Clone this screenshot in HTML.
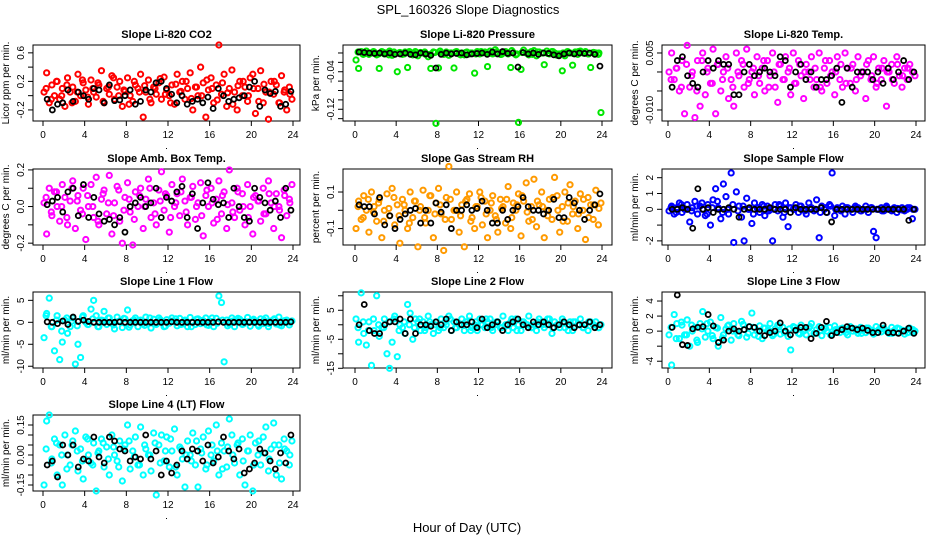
<!DOCTYPE html>
<html><head><meta charset="utf-8"><style>
html,body{margin:0;padding:0;background:#fff;}
svg{display:block;font-family:"Liberation Sans",sans-serif;}
</style></head><body>
<svg id="chart" width="936" height="540" viewBox="0 0 936 540" xmlns="http://www.w3.org/2000/svg">
<rect x="0" y="0" width="936" height="540" fill="#fff"/>
<text x="468" y="14" text-anchor="middle" font-size="13">SPL_160326  Slope Diagnostics</text>
<text x="467" y="532" text-anchor="middle" font-size="13">Hour of Day (UTC)</text>
</svg>
<script>
// ---- data arrays ----
const xTicks = [0,4,8,12,16,20,24];
const co2Color = [0.05,0.32,-0.1,0.15,0.0,0.2,-0.05,0.1,-0.15,0.25,0.05,0.12,-0.08,0.3,0.0,0.18,0.08,-0.12,0.22,0.05,-0.02,0.15,0.35,-0.1,0.1,0.02,0.28,-0.05,0.12,0.2,-0.15,0.06,0.25,0.0,-0.08,0.15,0.1,0.3,-0.3,0.05,0.22,-0.1,0.12,0.02,0.18,-0.05,0.26,0.08,0.0,0.15,-0.12,0.3,0.05,0.2,-0.05,0.1,0.32,-0.2,0.12,0.0,0.4,0.18,-0.3,0.08,0.25,-0.1,0.15,0.71,0.02,0.3,-0.15,0.1,0.36,0.05,-0.2,0.2,0.0,0.12,-0.08,0.25,0.3,-0.25,0.1,0.35,-0.1,0.05,-0.33,0.2,0.02,0.15,-0.1,0.28,0.05,-0.2,0.12,-0.05];
const co2Color2 = [0.1,-0.05,0.2,0.0,0.15,-0.1,0.05,0.22,-0.02,0.1,0.18,-0.08,0.12,0.25,0.0,0.08,-0.12,0.2,0.05,0.14,-0.05,0.1,0.24,0.02,-0.1,0.16,0.06,0.2,-0.04,0.12,0.0,0.22,0.1,-0.06,0.18,0.04,-0.12,0.14,0.2,0.0,0.1,-0.08,0.16,0.05,0.2,-0.1,0.08,0.02];
const co2Black = [-0.05,-0.2,-0.12,-0.1,0.08,-0.08,0.05,0.0,-0.05,0.1,0.08,-0.1,0.15,-0.07,-0.06,0.0,0.08,-0.12,-0.08,0.08,0.05,0.18,0.2,0.1,0.02,-0.1,0.0,-0.12,-0.08,-0.05,-0.1,-0.02,-0.18,0.1,0.0,-0.08,-0.05,-0.03,0.0,0.12,0.2,-0.15,0.08,0.03,0.06,-0.15,-0.12,0.06];
const pressColor = [-0.015,-0.033,0.003,-0.002,0.004,-0.003,0.0,0.002,-0.004,-0.033,0.003,-0.002,0.0,0.004,-0.005,-0.002,-0.04,0.001,-0.003,0.002,-0.031,0.0,-0.004,0.003,-0.006,0.001,0.0,-0.003,-0.008,-0.033,0.002,-0.15,-0.032,0.0,-0.003,0.002,-0.005,0.0,-0.032,0.003,-0.002,0.0,-0.004,0.002,-0.002,0.0,-0.043,0.003,-0.002,0.0,0.002,-0.029,0.004,-0.002,0.007,0.001,-0.003,0.0,0.003,-0.002,-0.031,0.001,-0.004,-0.148,-0.035,0.006,0.0,-0.004,0.003,0.005,-0.006,0.002,0.0,-0.025,0.004,-0.002,0.003,0.0,-0.005,-0.002,-0.038,-0.006,0.003,0.0,-0.026,0.002,-0.003,0.004,0.0,0.003,-0.002,-0.031,0.001,0.0,-0.003,-0.127];
const pressColor2 = [0.002,-0.003,0.0,0.003,-0.002,0.001,-0.004,0.002,0.0,-0.002,0.003,-0.001,0.0,0.002,-0.003,0.001,0.004,-0.002,0.0,0.002,-0.004,0.001,0.0,-0.002,0.003,0.0,-0.001,0.002,-0.003,0.0,0.005,-0.002,0.001,0.0,-0.003,0.002,0.0,-0.001,0.003,-0.002,0.0,0.002,-0.001,0.003,0.0,-0.002,0.001,0.0];
const pressBlack = [0.002,0.001,0.0,-0.001,0.0,-0.002,0.0,-0.003,-0.002,0.0,-0.003,-0.004,0.0,-0.002,-0.005,-0.032,-0.003,0.0,-0.002,-0.001,0.0,-0.004,-0.002,-0.001,0.0,-0.003,0.002,-0.002,0.003,-0.001,0.0,-0.03,0.001,-0.002,0.0,-0.003,0.0,-0.001,-0.004,-0.006,-0.002,0.0,-0.002,0.0,-0.001,0.0,-0.003,-0.028];
const tempColor = [0.0,0.005,-0.002,0.001,-0.005,0.003,-0.011,0.007,-0.004,0.0,-0.012,0.003,-0.009,0.005,-0.006,0.001,-0.003,0.006,-0.011,0.002,-0.005,0.0,0.004,-0.007,-0.002,-0.009,0.005,-0.001,0.003,-0.004,0.006,-0.002,0.0,-0.006,0.004,-0.003,0.001,-0.005,0.003,-0.001,0.005,-0.004,-0.008,0.002,-0.002,0.004,0.0,-0.006,0.005,-0.003,0.003,-0.001,-0.007,0.002,0.0,0.004,-0.004,-0.002,0.005,-0.005,0.001,-0.003,0.003,0.0,-0.006,0.004,-0.002,-0.004,0.005,0.001,-0.003,0.002,-0.005,0.004,-0.001,0.0,-0.007,0.003,-0.002,0.004,-0.004,0.001,-0.002,0.003,-0.009,0.0,0.002,-0.003,0.004,-0.001,-0.004,0.001,-0.002,0.002,0.0,-0.001];
const tempColor2 = [-0.002,0.001,-0.004,0.002,-0.001,-0.005,0.003,0.0,-0.003,0.002,-0.002,0.001,-0.004,0.0,0.002,-0.003,0.001,-0.001,0.003,-0.004,0.0,0.002,-0.002,0.001,-0.003,0.002,0.0,-0.002,0.001,-0.004,0.003,-0.001,0.0,0.002,-0.003,0.001,-0.002,0.0,0.002,-0.001,-0.003,0.001,0.0,-0.002,0.002,-0.001,0.001,0.0];
const tempBlack = [-0.004,0.003,0.004,-0.001,-0.003,-0.004,0.0,0.003,0.001,0.003,0.002,0.002,-0.006,-0.006,0.0,0.002,-0.001,0.0,0.001,0.0,-0.001,0.004,0.003,-0.004,0.0,0.002,-0.002,0.0,-0.004,-0.002,-0.002,-0.001,0.001,-0.008,0.001,-0.004,0.0,0.0,0.0,-0.002,0.0,-0.003,0.001,-0.002,0.0,0.003,-0.002,0.0];
const ambColor = [0.02,-0.15,0.1,-0.05,0.08,0.0,-0.08,0.12,0.05,-0.1,0.03,0.14,-0.12,0.06,-0.02,0.1,-0.18,0.0,0.12,-0.06,0.16,-0.1,0.04,0.09,-0.04,0.17,-0.15,0.02,0.11,-0.08,-0.2,0.05,0.13,-0.03,-0.21,0.08,0.0,0.1,-0.12,0.04,0.15,-0.06,0.02,-0.1,0.09,0.19,-0.02,0.06,-0.14,0.12,0.0,0.07,-0.05,0.15,0.03,-0.1,0.05,0.11,-0.07,0.02,0.13,-0.16,0.06,0.0,0.1,-0.09,0.04,0.14,-0.04,0.08,-0.12,0.2,0.02,-0.06,0.1,-0.02,0.07,-0.1,0.12,0.0,-0.15,0.06,0.03,-0.08,0.1,-0.04,0.14,0.02,-0.12,0.07,0.0,-0.17,0.09,-0.05,0.04,0.12];
const ambColor2 = [0.05,-0.03,0.08,0.0,-0.06,0.1,0.03,-0.04,0.06,0.0,-0.08,0.07,0.02,-0.05,0.09,-0.02,0.04,-0.07,0.06,0.0,0.1,-0.04,0.03,0.07,-0.06,0.02,0.08,-0.03,0.05,0.0,-0.05,0.09,0.02,-0.07,0.06,0.01,-0.03,0.08,0.0,-0.06,0.05,0.03,-0.04,0.07,0.0,-0.02,0.06,0.02];
const ambBlack = [0.01,0.03,0.05,-0.03,0.08,0.1,-0.05,0.12,-0.06,0.05,-0.04,-0.08,-0.07,-0.1,-0.06,-0.14,0.0,0.02,0.05,0.0,0.02,0.1,-0.06,0.05,0.03,0.08,0.11,-0.06,0.07,-0.12,0.02,0.13,0.04,0.01,0.02,-0.06,0.1,0.0,-0.06,-0.08,0.1,0.05,0.02,-0.02,0.03,-0.06,0.1,-0.02];
const rhColor = [-0.1,0.05,-0.05,0.08,0.0,-0.12,0.1,0.02,-0.06,0.06,-0.15,0.0,0.09,-0.03,0.12,-0.08,0.03,-0.18,0.06,0.0,-0.1,0.1,-0.04,0.05,-0.2,0.02,0.11,-0.07,0.0,0.08,-0.15,0.04,0.12,-0.02,-0.22,0.07,0.24,-0.05,0.0,0.1,-0.12,0.03,-0.2,0.06,0.09,-0.04,-0.1,0.02,0.1,-0.08,0.05,-0.15,0.0,0.08,-0.03,-0.12,0.06,0.02,-0.07,0.13,-0.1,0.04,0.0,0.09,-0.14,0.05,0.15,-0.06,0.02,0.17,-0.09,0.03,0.1,-0.15,0.0,0.06,-0.05,0.18,0.08,-0.12,0.02,0.1,-0.06,0.14,-0.02,0.05,-0.1,0.09,0.0,-0.16,0.07,0.03,-0.05,0.11,-0.08,0.04];
const rhColor2 = [0.02,-0.04,0.06,-0.01,0.04,-0.06,0.01,0.07,-0.03,0.03,-0.07,0.05,0.0,-0.04,0.08,-0.02,0.03,-0.05,0.06,0.0,-0.03,0.05,-0.06,0.02,0.07,-0.02,0.04,-0.05,0.01,0.06,-0.04,0.03,0.08,-0.01,-0.05,0.05,0.02,-0.03,0.07,0.0,-0.06,0.04,0.02,-0.02,0.06,-0.04,0.03,0.01];
const rhBlack = [0.03,0.02,0.02,-0.02,0.07,-0.08,-0.03,-0.1,-0.05,-0.02,0.0,0.01,-0.07,0.0,-0.07,0.04,-0.01,0.03,-0.1,0.0,0.0,0.03,0.0,0.01,0.05,0.0,-0.07,-0.07,0.0,-0.05,0.0,0.02,0.07,0.02,0.0,0.0,-0.02,0.0,0.06,-0.04,-0.04,0.07,0.04,0.0,-0.05,0.0,0.03,0.09];
const flowColor = [-0.1,0.2,-0.3,0.1,0.4,-0.2,0.0,0.3,-0.8,0.1,0.5,-0.3,0.2,0.0,-0.4,0.3,-1.0,0.6,1.3,0.1,-0.6,1.6,0.8,-0.3,2.3,-2.1,1.1,0.2,-0.5,-2.0,0.7,0.0,-0.9,0.4,0.1,-0.2,0.3,-0.4,0.2,0.0,-2.0,0.3,-0.1,0.2,-0.5,0.4,-1.1,0.1,0.0,0.3,-0.2,0.2,0.0,-0.3,0.4,0.1,-0.1,0.6,-1.8,0.2,0.0,-0.2,0.3,2.3,-0.4,0.1,0.0,0.2,-0.3,0.1,0.0,-0.2,0.2,0.1,-0.1,0.0,0.2,-0.2,0.1,-1.4,-1.8,0.0,0.1,-0.1,0.2,0.0,-0.1,0.1,-0.2,0.0,0.1,-0.1,0.0,0.1,-0.6,0.0];
const flowColor2 = [0.1,-0.2,0.3,0.0,-0.1,0.2,0.4,-0.3,0.1,0.5,-0.2,0.0,0.3,-0.1,0.2,0.0,-0.3,0.1,0.2,-0.1,0.0,0.3,-0.2,0.1,0.0,0.2,-0.1,0.1,0.0,-0.2,0.1,0.2,0.0,-0.1,0.1,0.0,0.1,-0.1,0.0,0.1,0.0,-0.1,0.1,0.0,0.05,-0.05,0.1,0.0];
const flowBlack = [0.0,0.0,0.1,0.0,-1.2,1.3,0.0,0.1,-0.2,0.0,0.0,0.1,0.0,-0.5,0.0,0.1,0.0,0.0,0.0,0.1,0.0,0.0,0.0,-0.2,0.1,0.0,0.0,0.0,0.0,0.1,-0.2,-0.8,0.0,0.0,0.0,0.0,0.0,0.0,0.0,0.0,0.0,0.0,0.0,0.0,0.0,0.0,-0.7,0.0];
const line1Color = [-3.5,2,5.5,-1,-6.5,1.5,-8.5,-4.5,0.5,-2.5,-1,1,-9.5,-5,-8,1.5,0,-0.5,3,5,1.5,-1,0.5,2.5,-0.5,1,0,-1.5,1.2,0.3,-1.2,0.8,2.8,-0.6,0.4,1,-1,0.5,-0.3,1.2,0,-1.3,0.7,-0.5,1,0.3,-1,0.6,-0.2,1,0.2,-0.8,0.9,-0.4,0.5,-1,1.1,0,-0.5,0.8,-0.3,0.4,1,-0.7,0.2,-1,0.9,6,4.5,-9,0.5,-0.4,1,-1,0.3,0.7,-0.5,0.2,1.1,-0.9,0.4,0,-0.6,0.8,-0.3,1,-1,0.3,0.6,-0.4,1.2,-0.8,0.2,0.5,-0.6,0.3];
const line1Color2 = [1.5,-1,0.5,-2,1,0.3,-0.8,1.2,-0.5,0.8,-1,0.4,1,-0.6,0.2,0.9,-1.1,0.5,0.1,-0.7,1,-0.3,0.6,-0.9,0.3,0.8,-0.5,0.2,-1,0.7,0.4,-0.6,1,-0.2,0.5,-0.8,0.3,0.9,-0.4,0.1,0.7,-0.9,0.5,-0.3,0.8,-0.6,0.4,0];
const line1Black = [0.1,0,-0.3,0.3,-0.5,1.2,0.2,0.5,0.2,0,0,0,0,0,0.1,0,0,0,0,0,0,0,0,0,0.1,0,0,0,0,0,0,0,0,0.1,0,0,0,0,0,0,0,0,0,0,0,0,0,0.1];
const line2Color = [2,-6,11,-3,-7,1,-14,-2,10,-4,-1,2,-10,-15,-6,3,-11,0,-1,-3,7,4,-5,2,1,-2,1,-1,3,0,-3,1,-2,2,-1,0,3,-2,1,-1,0,2,-2,1,3,-1,0,-2,2,0,-1,1,2,-2,0,1,-1,3,0,-2,1,-1,2,0,-2,1,0,3,-1,0,-2,2,1,-1,0,2,-3,1,0,-1,2,-1,0,1,-2,1,0,2,-1,0,-2,1,0,1,-1,0];
const line2Color2 = [-1,1,-2,2,0,-1,1,2,-2,1,0,-1,2,-2,1,0,-1,1,2,-1,0,1,-2,1,0,2,-1,1,-1,0,2,-2,1,0,-1,1,0,2,-1,0,1,-2,1,0,-1,1,0,-1];
const line2Black = [0,7,-2,-3,-3,0,1,1,2,-3,2,-3,0,0,-0.5,1,0,2,-2,1,0,0,1,-1,2,-1,0,1,-2,0,1,2,0,-1,1,0,1,0,-1,0,1,0,-1,0,0,1,-1,0];
const line3Color = [-0.5,-4.5,2.2,1,-1,0.8,-0.5,1.5,-2,0,0.5,-1.5,1,2.6,-0.8,0,1.2,-1,0.5,-2,1.8,-0.5,0.3,0.8,-1.2,1,0,-0.6,1.3,0.2,-0.8,0.6,2.4,-0.5,0,0.7,-1,0.4,0,1,-0.6,0.3,0.8,-0.4,0.5,0,-0.7,-2.5,0.6,0.2,-0.3,0.8,0,-0.5,0.4,1,-0.3,0.2,0.6,-0.6,0.3,0,0.5,-0.4,0.7,0,-0.2,0.4,0.2,-0.5,0.6,0,0.3,-0.3,0.5,0.1,-0.2,0.4,0,-0.4,0.6,0.2,-0.1,0.4,0,-0.3,0.5,0.1,-0.2,0.3,0,-0.4,0.2,0.4,-0.2,0];
const line3Color2 = [0.5,-1,1.2,-0.5,0.8,-1.2,0.3,1,-0.6,0.4,-0.9,0.7,0,-0.5,0.9,-0.3,0.5,-0.7,0.4,0.1,-0.4,0.6,-0.2,0.3,0.5,-0.4,0.2,0.6,-0.3,0.1,0.4,-0.5,0.2,0.3,-0.2,0.5,0,-0.3,0.4,0.1,-0.2,0.3,0,-0.3,0.4,0.1,-0.2,0.2];
const line3Black = [0.5,4.8,-1.8,-1.9,0.3,0.5,0.6,2.2,0.7,-1.5,-1.2,0,0.3,0,0.2,0.6,0.5,0,-0.6,-0.2,0,1.1,0,-0.5,0.1,0.5,0.5,-1,-0.3,0.5,1.3,-0.6,-0.2,0.2,0.6,0.4,0.2,0.4,0.1,-0.2,-0.2,0.8,-0.2,-0.2,-0.3,0,0.4,-0.3];
const line4Color = [-0.15,0.17,0.2,-0.02,0.08,-0.1,0.05,-0.15,0.1,0.0,-0.05,0.07,0.12,-0.08,0.03,-0.12,0.09,0.0,-0.04,0.06,-0.18,0.02,0.08,-0.06,0.04,-0.1,0.1,0.0,-0.03,0.07,-0.13,0.05,0.15,-0.07,0.02,0.09,-0.05,0.14,-0.1,0.03,0.0,-0.08,0.11,-0.2,0.05,0.1,-0.03,0.09,-0.06,0.02,0.13,-0.1,0.04,-0.02,-0.16,0.07,0.0,0.11,-0.05,-0.16,0.03,0.09,-0.07,0.12,0.0,-0.03,0.15,-0.1,0.06,0.02,-0.06,0.18,0.1,-0.04,0.05,-0.1,0.08,-0.15,0.02,0.1,-0.18,0.06,0.0,-0.05,0.09,0.14,-0.08,0.03,0.16,-0.1,0.05,-0.12,0.08,0.02,-0.05,0.07];
const line4Color2 = [0.03,-0.04,0.06,0.0,-0.07,0.05,0.02,-0.03,0.08,-0.05,0.01,0.06,-0.02,0.04,-0.06,0.03,0.07,-0.01,-0.05,0.05,0.0,0.06,-0.04,0.02,0.08,-0.06,0.03,0.0,-0.03,0.07,0.01,-0.05,0.05,0.02,-0.07,0.04,0.0,0.06,-0.03,0.02,-0.05,0.07,0.01,-0.02,0.05,-0.04,0.03,0.0];
const line4Black = [-0.05,-0.03,-0.11,0.05,0.0,0.05,-0.06,-0.02,-0.03,0.09,-0.01,-0.04,0.09,0.07,0.03,0.02,-0.03,-0.01,-0.02,0.10,-0.02,0.02,-0.10,-0.03,-0.09,-0.05,0.02,-0.02,0.03,0.02,-0.03,0.05,-0.04,-0.01,0.09,0.02,-0.02,0.03,-0.09,-0.07,-0.04,0.03,0.01,-0.03,-0.07,0.01,-0.04,0.1];
const co2Ticks=[-0.2,0,0.2,0.4,0.6], co2Labels=["-0.2","","0.2","","0.6"];
const pressTicks=[0,-0.02,-0.04,-0.06,-0.08,-0.10,-0.12,-0.14], pressLabels=["","","-0.04","","","","-0.12",""];
const tempTicks=[0.005,0,-0.005,-0.010], tempLabels=["0.005","","","-0.010"];
const ambTicks=[-0.2,-0.1,0,0.1,0.2], ambLabels=["-0.2","","0.0","","0.2"];
const rhTicks=[-0.1,0,0.1], rhLabels=["-0.1","","0.1"];
const flowTicks=[-2,-1,0,1,2], flowLabels=["-2","","0","1","2"];
const line1Ticks=[-10,-5,0,5], line1Labels=["-10","-5","0","5"];
const line2Ticks=[-15,-10,-5,0,5,10], line2Labels=["-15","","-5","","5",""];
const line3Ticks=[-4,-2,0,2,4], line3Labels=["-4","","0","2","4"];
const line4Ticks=[-0.15,-0.10,-0.05,0,0.05,0.10,0.15], line4Labels=["-0.15","","","0.00","","","0.15"];

// ---- layout config ----
const cols=[{l:33,r:300,x0:43,x24:293},{l:343,r:612,x0:355,x24:602},{l:662,r:925,x0:668,x24:916}];
const rowTops=[45,169,292,415];
const H=76;
const panels=[
 {name:"co2",title:"Slope Li-820 CO2",yl:"Licor ppm per min.",c:0,r:0,top:0.71,bot:-0.355,col:"#ff0000",cv:co2Color,cv2:co2Color2,bv:co2Black,t:co2Ticks,tl:co2Labels},
 {name:"pressure",title:"Slope Li-820 Pressure",yl:"kPa per min.",c:1,r:0,top:0.017,bot:-0.145,col:"#00e600",cv:pressColor,cv2:pressColor2,bv:pressBlack,t:pressTicks,tl:pressLabels},
 {name:"temp",title:"Slope Li-820 Temp.",yl:"degrees C per min.",c:2,r:0,top:0.0071,bot:-0.0129,col:"#ff00ff",cv:tempColor,cv2:tempColor2,bv:tempBlack,t:tempTicks,tl:tempLabels},
 {name:"amb-box-temp",title:"Slope Amb. Box Temp.",yl:"degrees C per min.",c:0,r:1,top:0.205,bot:-0.21,col:"#ff00ff",cv:ambColor,cv2:ambColor2,bv:ambBlack,t:ambTicks,tl:ambLabels},
 {name:"gas-stream-rh",title:"Slope Gas Stream RH",yl:"percent per min.",c:1,r:1,top:0.226,bot:-0.19,col:"#ff9a00",cv:rhColor,cv2:rhColor2,bv:rhBlack,t:rhTicks,tl:rhLabels},
 {name:"sample-flow",title:"Slope Sample Flow",yl:"ml/min per min.",c:2,r:1,top:2.55,bot:-2.26,col:"#0000ff",cv:flowColor,cv2:flowColor2,bv:flowBlack,t:flowTicks,tl:flowLabels},
 {name:"line1-flow",title:"Slope Line 1 Flow",yl:"ml/min per min.",c:0,r:2,top:6.9,bot:-10.4,col:"#00ffff",cv:line1Color,cv2:line1Color2,bv:line1Black,t:line1Ticks,tl:line1Labels},
 {name:"line2-flow",title:"Slope Line 2 Flow",yl:"ml/min per min.",c:1,r:2,top:11.3,bot:-14.9,col:"#00ffff",cv:line2Color,cv2:line2Color2,bv:line2Black,t:line2Ticks,tl:line2Labels},
 {name:"line3-flow",title:"Slope Line 3 Flow",yl:"ml/min per min.",c:2,r:2,top:5.2,bot:-4.9,col:"#00ffff",cv:line3Color,cv2:line3Color2,bv:line3Black,t:line3Ticks,tl:line3Labels},
 {name:"line4-flow",title:"Slope Line 4 (LT) Flow",yl:"ml/min per min.",c:0,r:3,top:0.2,bot:-0.18,col:"#00ffff",cv:line4Color,cv2:line4Color2,bv:line4Black,t:line4Ticks,tl:line4Labels}
];
const NS="http://www.w3.org/2000/svg";
const svg=document.getElementById('chart');
function mk(tag,attrs,parent){const e=document.createElementNS(NS,tag);for(const k in attrs)e.setAttribute(k,attrs[k]);(parent||svg).appendChild(e);return e;}
panels.forEach(p=>{
 const C=cols[p.c], T=rowTops[p.r], B=T+H;
 const g=mk('g',{});
 
 
 const xs=h=>C.x0+(C.x24-C.x0)*h/24;
 const ys=v=>T+(p.top-v)/(p.top-p.bot)*H;
 const box=mk('rect',{x:C.l,y:T,width:C.r-C.l,height:H,fill:'none',stroke:'#000','stroke-width':1},g);
 
 
 const tt=mk('text',{x:(C.l+C.r)/2,y:T-7,'text-anchor':'middle','font-size':11,'font-weight':'bold'},g);
 tt.textContent=p.title;
 
 
 xTicks.forEach(h=>{
  const x=xs(h);
  mk('line',{x1:x,y1:B,x2:x,y2:B+5,stroke:'#000'},g);
  const t=mk('text',{x:x,y:B+17,'text-anchor':'middle','font-size':10},g);
  t.textContent=h;
  
  
 });
 mk('rect',{x:(C.l+C.r)/2-0.5,y:B+27,width:1,height:1,fill:'#000'},g);
 p.t.forEach((v,i)=>{
  const y=ys(v);
  if(y<T-1||y>B+1)return;
  mk('line',{x1:C.l-5,y1:y,x2:C.l,y2:y,stroke:'#000'},g);
  if(p.tl[i]){
   const t=mk('text',{x:C.l-9,y:y,'text-anchor':'middle','font-size':10,transform:`rotate(-90 ${C.l-9} ${y})`},g);
   t.textContent=p.tl[i];
   
   
  }
 });
 const yt=mk('text',{x:C.l-24,y:(T+B)/2,'text-anchor':'middle','font-size':10,transform:`rotate(-90 ${C.l-24} ${(T+B)/2})`},g);
 yt.textContent=p.yl;
 
 
 const n=p.cv.length;
 p.cv.forEach((v,i)=>{
  const h=0.1+i*23.8/(n-1);
  const c=mk('circle',{cx:xs(h),cy:ys(v),r:2.6,fill:'none',stroke:p.col,'stroke-width':2},g);
  
  
 });
 const n2=p.cv2.length;
 p.cv2.forEach((v,i)=>{
  const h=0.3+i*23.4/(n2-1);
  const c=mk('circle',{cx:xs(h),cy:ys(v),r:2.6,fill:'none',stroke:p.col,'stroke-width':2},g);
  
  
 });
 const m=p.bv.length;
 p.bv.forEach((v,i)=>{
  const h=0.4+i*23.4/(m-1);
  const c=mk('circle',{cx:xs(h),cy:ys(v),r:2.5,fill:'none',stroke:'#000','stroke-width':1.8},g);
  
  
 });
});
</script>
</body></html>
